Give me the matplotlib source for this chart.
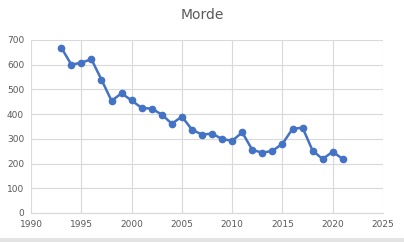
import matplotlib.pyplot as plt
from matplotlib.patches import Rectangle

# Data
years = list(range(1993, 2022))
murders = [669, 600, 608, 622, 539, 454, 484, 455, 425, 422, 398, 361, 390,
           337, 317, 321, 299, 292, 326, 255, 244, 251, 280, 340, 345, 252,
           218, 248, 218]
x_ticks = [1990, 1995, 2000, 2005, 2010, 2015, 2020, 2025]
y_ticks = [0, 100, 200, 300, 400, 500, 600, 700]

fig = plt.figure(figsize=(4.04, 2.42), dpi=100)
ax = fig.add_axes([0.077, 0.12, 0.871, 0.715])

ax.plot(years, murders, color='#4472C4', linewidth=1.8, marker='o',
        markersize=4.5, zorder=3)

ax.set_xlim(1990, 2025)
ax.set_ylim(0, 700)
ax.set_xticks(x_ticks)
ax.set_yticks(y_ticks)
ax.grid(True, color='#D9D9D9', linewidth=0.8)
ax.set_axisbelow(True)

for side in ['top', 'right', 'left']:
    ax.spines[side].set_visible(False)
ax.spines['bottom'].set_color('#D9D9D9')
ax.tick_params(length=0, labelsize=6.5, colors='#595959', pad=5)

fig.suptitle("Morde", fontsize=10, color='#595959', y=0.965)

# thin grey strip along the bottom edge, like the chart frame in the reference
fig.patches.append(Rectangle((0, 0), 1, 0.016, transform=fig.transFigure,
                             facecolor='#E3E3E3', edgecolor='none'))

fig.savefig("out.png", dpi=100)
